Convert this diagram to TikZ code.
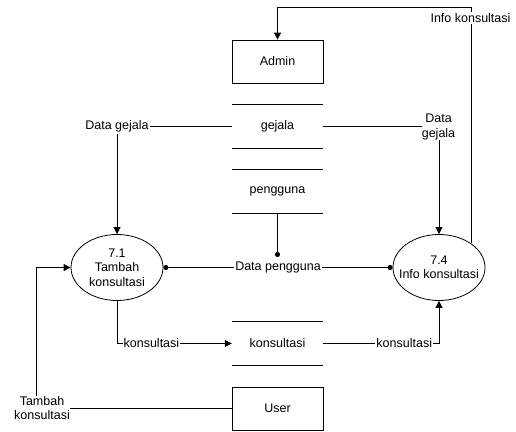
\documentclass[tikz,border=0pt]{standalone}
\usepackage{fontspec}
\setmainfont{Liberation Sans}
\usetikzlibrary{arrows.meta,shapes.geometric,calc}
\begin{document}
\begin{tikzpicture}[x=1pt,y=-1pt,
  every node/.style={font=\fontsize{12.5}{14.5}\selectfont},
  line/.style={line width=0.8pt},
  arr/.style={line, -{Triangle[length=7pt,width=7pt]}},
  dotend/.style={line, -{Circle[length=5pt]}},
  dotboth/.style={line, {Circle[length=5pt]}-{Circle[length=5pt]}},
  entity/.style={draw, line width=0.8pt, minimum width=91pt, minimum height=43pt, inner sep=0pt},
  store/.style={minimum width=91pt, minimum height=43pt, inner sep=0pt},
  proc/.style={draw, ellipse, line width=0.8pt, minimum width=92pt, minimum height=66pt, inner sep=0pt},
  lbl/.style={fill=white, inner sep=1pt, align=center}]
\useasboundingbox (0,0) rectangle (516,431);

% entities
\node[entity] (admin) at (277.5,61.5) {Admin};
\node[entity] (user) at (277.5,408.5) {User};

% data stores
\node[store] (gejala) at (277.5,126.5) {gejala};
\node[store] (pengguna) at (277.5,191.5) {pengguna};
\node[store] (kons) at (277.5,343.5) {konsultasi};
\foreach \s in {gejala,pengguna,kons}{
  \draw[line] (\s.north west) -- (\s.north east);
  \draw[line] (\s.south west) -- (\s.south east);
}

% processes
\node[proc] (p71) at (117,267.5) {};
\node[align=center, inner sep=0pt] (p71t) at (p71.center) {7.1\\Tambah\\konsultasi};
\node[proc] (p74) at (439,267.5) {};
\node[align=center, inner sep=0pt] (p74t) at (p74.center) {7.4\\Info konsultasi};

% coordinates
\coordinate (top) at (0,7);
\coordinate (pdot) at (277.5,257);
\coordinate (tk) at (36,408.5);

% Data gejala (left)
\node[lbl] (lg) at (117,126.5) {Data gejala};
\draw[line] (gejala.west) -- (lg.east);
\draw[arr] (lg.south) -- (p71.north);

% Data gejala (right)
\node[lbl, inner sep=0pt] (rg) at (438.5,127) {Data\\gejala};
\draw[line] (gejala.east) -- (gejala.east -| rg.west);
\draw[arr] (rg.south -| p74.north) -- (p74.north);

% Info konsultasi
\draw[arr] (p74.37) |- (admin.north |- top) -- (admin.north);
\node[lbl] (ik) at (470.5,18) {Info konsultasi};

% Data pengguna
\draw[dotend] (pengguna.south) -- (pdot);
\draw[dotboth] (p71.east) -- node[lbl, pos=0.5] (dp) {Data pengguna} (p74.west);

% konsultasi flows
\draw[arr] (p71.south) |- node[lbl, pos=0.65] (k1) {konsultasi} (kons.west);
\draw[arr] (kons.east) -| node[lbl, pos=0.35] (k2) {konsultasi} (p74.south);

% Tambah konsultasi
\draw[arr] (user.west) -- (tk) |- (p71.west);
\node[lbl, inner sep=0pt] (tkl) at (42,408) {Tambah\\konsultasi};
\end{tikzpicture}
\end{document}
